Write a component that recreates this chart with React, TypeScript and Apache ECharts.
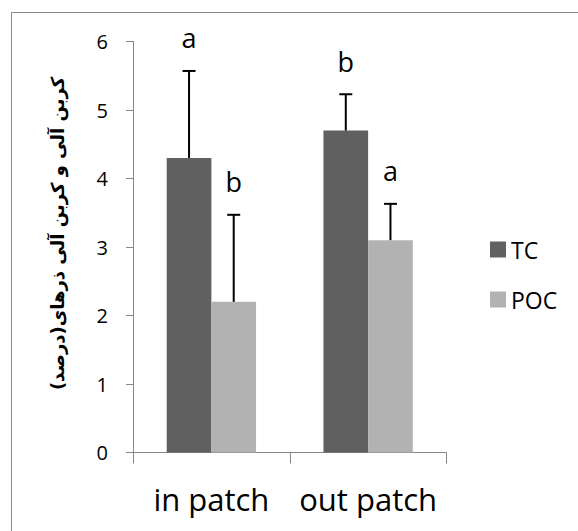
import React, { useEffect, useRef } from "react";
import * as echarts from "echarts";

const categories = ["in patch", "out patch"];
const seriesNames = ["TC", "POC"];
const tcValues = [4.3, 4.7];
const pocValues = [2.2, 3.1];
const tcErrors = [1.27, 0.53];
const pocErrors = [1.27, 0.53];
const tcLetters = ["a", "b"];
const pocLetters = ["b", "a"];
const yMin = 0;
const yMax = 6;
const yInterval = 1;
const yTitle = "کربن آلی و کربن آلی ذرهای(درصد)\u200F";

const GAP = 0.43;
const TC_COLOR = "#606060";
const POC_COLOR = "#b2b2b2";
const AXIS_COLOR = "#868686";
const FONT = "Open Sans";

function makeErrorSeries(values: number[], errors: number[], letters: string[], side: number) {
  return {
    type: "custom",
    z: 5,
    silent: true,
    data: values.map((v, i) => [i, v, errors[i]]),
    encode: { x: 0, y: 1 },
    renderItem: (params: any, api: any) => {
      const idx = api.value(0);
      const v = api.value(1);
      const e = api.value(2);
      const band = api.size([1, 0])[0];
      const bw = (band * (1 - GAP)) / 2;
      const base = api.coord([idx, v]);
      const top = api.coord([idx, v + e]);
      const x = base[0] + (side * bw) / 2;
      return {
        type: "group",
        children: [
          { type: "line", shape: { x1: x, y1: base[1], x2: x, y2: top[1] }, style: { stroke: "#000", lineWidth: 2 } },
          { type: "line", shape: { x1: x - 6.5, y1: top[1], x2: x + 6.5, y2: top[1] }, style: { stroke: "#000", lineWidth: 2 } },
          {
            type: "text",
            style: {
              text: letters[params.dataIndex],
              x,
              y: top[1] - 33,
              align: "center",
              verticalAlign: "middle",
              fontSize: 27,
              fontFamily: FONT,
              fill: "#000",
            },
          },
        ],
      };
    },
  };
}

export default function App() {
  const ref = useRef<HTMLDivElement>(null);
  useEffect(() => {
    if (!ref.current) return;
    const chart = echarts.init(ref.current, null, { renderer: "svg" });
    chart.setOption({
      animation: false,
      backgroundColor: "#ffffff",
      grid: { left: 133, top: 41.5, width: 313.5, height: 411, outerBoundsMode: "none", containLabel: false },
      legend: {
        orient: "vertical",
        left: 490,
        top: 238,
        padding: 0,
        icon: "rect",
        itemWidth: 16,
        itemHeight: 16,
        itemGap: 27,
        data: seriesNames,
        textStyle: { fontFamily: FONT, fontSize: 23, color: "#000" },
      },
      xAxis: {
        type: "category",
        data: categories,
        axisLine: { show: true, lineStyle: { color: AXIS_COLOR, width: 1 } },
        axisTick: { show: true, length: 11, lineStyle: { color: AXIS_COLOR } },
        axisLabel: { interval: 0, hideOverlap: false, fontFamily: FONT, fontSize: 31, color: "#000", margin: 31 },
        splitLine: { show: false },
      },
      yAxis: {
        type: "value",
        min: yMin,
        max: yMax,
        interval: yInterval,
        axisLine: { show: true, lineStyle: { color: AXIS_COLOR, width: 1 } },
        axisTick: { show: true, length: 7, lineStyle: { color: AXIS_COLOR } },
        axisLabel: { fontFamily: FONT, fontSize: 20, color: "#000", margin: 25 },
        splitLine: { show: false },
      },
      graphic: [
        {
          type: "polyline",
          shape: { points: [[11.5, 531], [11.5, 12.5], [578, 12.5]] },
          style: { stroke: "#898989", lineWidth: 1, fill: null },
        },
        {
          type: "text",
          x: 57,
          y: 233.5,
          rotation: Math.PI / 2,
          style: {
            text: yTitle,
            align: "center",
            verticalAlign: "middle",
            fontFamily: "DejaVu Sans",
            fontWeight: "bold",
            fontSize: 18,
            fill: "#000",
          },
        },
      ],
      series: [
        {
          name: seriesNames[0],
          type: "bar",
          data: tcValues,
          barGap: "0%",
          barCategoryGap: GAP * 100 + "%",
          itemStyle: { color: TC_COLOR },
        },
        {
          name: seriesNames[1],
          type: "bar",
          data: pocValues,
          barGap: "0%",
          barCategoryGap: GAP * 100 + "%",
          itemStyle: { color: POC_COLOR },
        },
        makeErrorSeries(tcValues, tcErrors, tcLetters, -1),
        makeErrorSeries(pocValues, pocErrors, pocLetters, 1),
      ],
    });
    return () => chart.dispose();
  }, []);
  return (
    <div
      ref={ref}
      style={{ position: "absolute", left: 0, top: 0, width: 578, height: 531, background: "#fff" }}
    />
  );
}
